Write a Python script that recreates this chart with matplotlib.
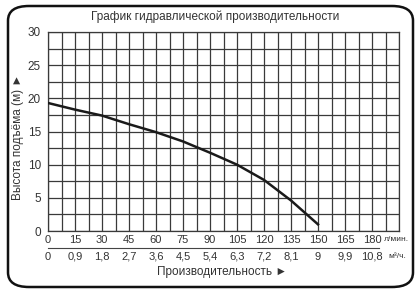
import matplotlib.pyplot as plt
from matplotlib.patches import FancyBboxPatch
import numpy as np

# Data
flow_lmin = [0, 15, 30, 45, 60, 75, 90, 105, 120, 135, 150]
head_m = [19.3, 18.3, 17.4, 16.1, 14.9, 13.5, 11.8, 10.0, 7.7, 4.6, 1.0]

x_ticks = [0, 15, 30, 45, 60, 75, 90, 105, 120, 135, 150, 165, 180]
x_labels_m3h = ['0', '0,9', '1,8', '2,7', '3,6', '4,5', '5,4', '6,3', '7,2', '8,1', '9', '9,9', '10,8']
y_ticks = [0, 5, 10, 15, 20, 25, 30]

plt.rcParams['font.family'] = ['Liberation Sans', 'DejaVu Sans']

W, H = 420, 292
fig = plt.figure(figsize=(W / 100, H / 100), dpi=100)

# rounded frame around the whole chart
frame = FancyBboxPatch((8 / W, 5 / H), 405 / W, 281 / H,
                       boxstyle='round,pad=0,rounding_size=0.05',
                       transform=fig.transFigure, fill=False,
                       edgecolor='#111111', linewidth=1.8)
fig.patches.append(frame)

ax = fig.add_axes([48 / W, (H - 231) / H, 351 / W, 199 / H])
ax.set_xlim(0, 195)
ax.set_ylim(0, 30)

# grid: every 7.5 l/min and every 2.5 m
for gx in np.arange(0, 195.1, 7.5):
    ax.axvline(gx, color='#3a3a3a', lw=0.9, zorder=1)
for gy in np.arange(0, 30.1, 2.5):
    ax.axhline(gy, color='#3a3a3a', lw=0.9, zorder=1)
for s in ax.spines.values():
    s.set_color('#3a3a3a')
    s.set_linewidth(0.9)

ax.plot(flow_lmin, head_m, color='#1a1a1a', lw=1.8, zorder=3)

ax.set_xticks([])
ax.set_yticks(y_ticks)
ax.set_yticklabels([str(v) for v in y_ticks], fontsize=8.5, color='#333333')
ax.tick_params(axis='y', length=0, pad=5)

tr = ax.get_xaxis_transform()
for xv, lab in zip(x_ticks, x_labels_m3h):
    ax.text(xv, -0.045, str(xv), transform=tr, ha='center', va='center',
            fontsize=8, color='#333333')
    ax.text(xv, -0.13, lab, transform=tr, ha='center', va='center',
            fontsize=8, color='#333333')
ax.text(193.5, -0.045, 'л/мин.', transform=tr, ha='center', va='center',
        fontsize=6, color='#333333')
ax.text(194, -0.13, 'м³/ч.', transform=tr, ha='center', va='center',
        fontsize=6, color='#333333')
ax.plot([0, 184], [-0.085, -0.085], transform=tr, color='#444444',
        lw=0.8, clip_on=False)

ax.text(0.495, -0.205, 'Производительность ►', transform=ax.transAxes,
        ha='center', va='center', fontsize=8.5, color='#333333')
fig.text(18 / W, 0.53, 'Высота подъёма (м) ►', rotation=90,
         ha='center', va='center', fontsize=8.5, color='#333333')
fig.text(215 / W, 1 - 17 / H, 'График гидравлической производительности',
         ha='center', va='center', fontsize=8.5, color='#333333')

fig.savefig('out.png', dpi=100)
